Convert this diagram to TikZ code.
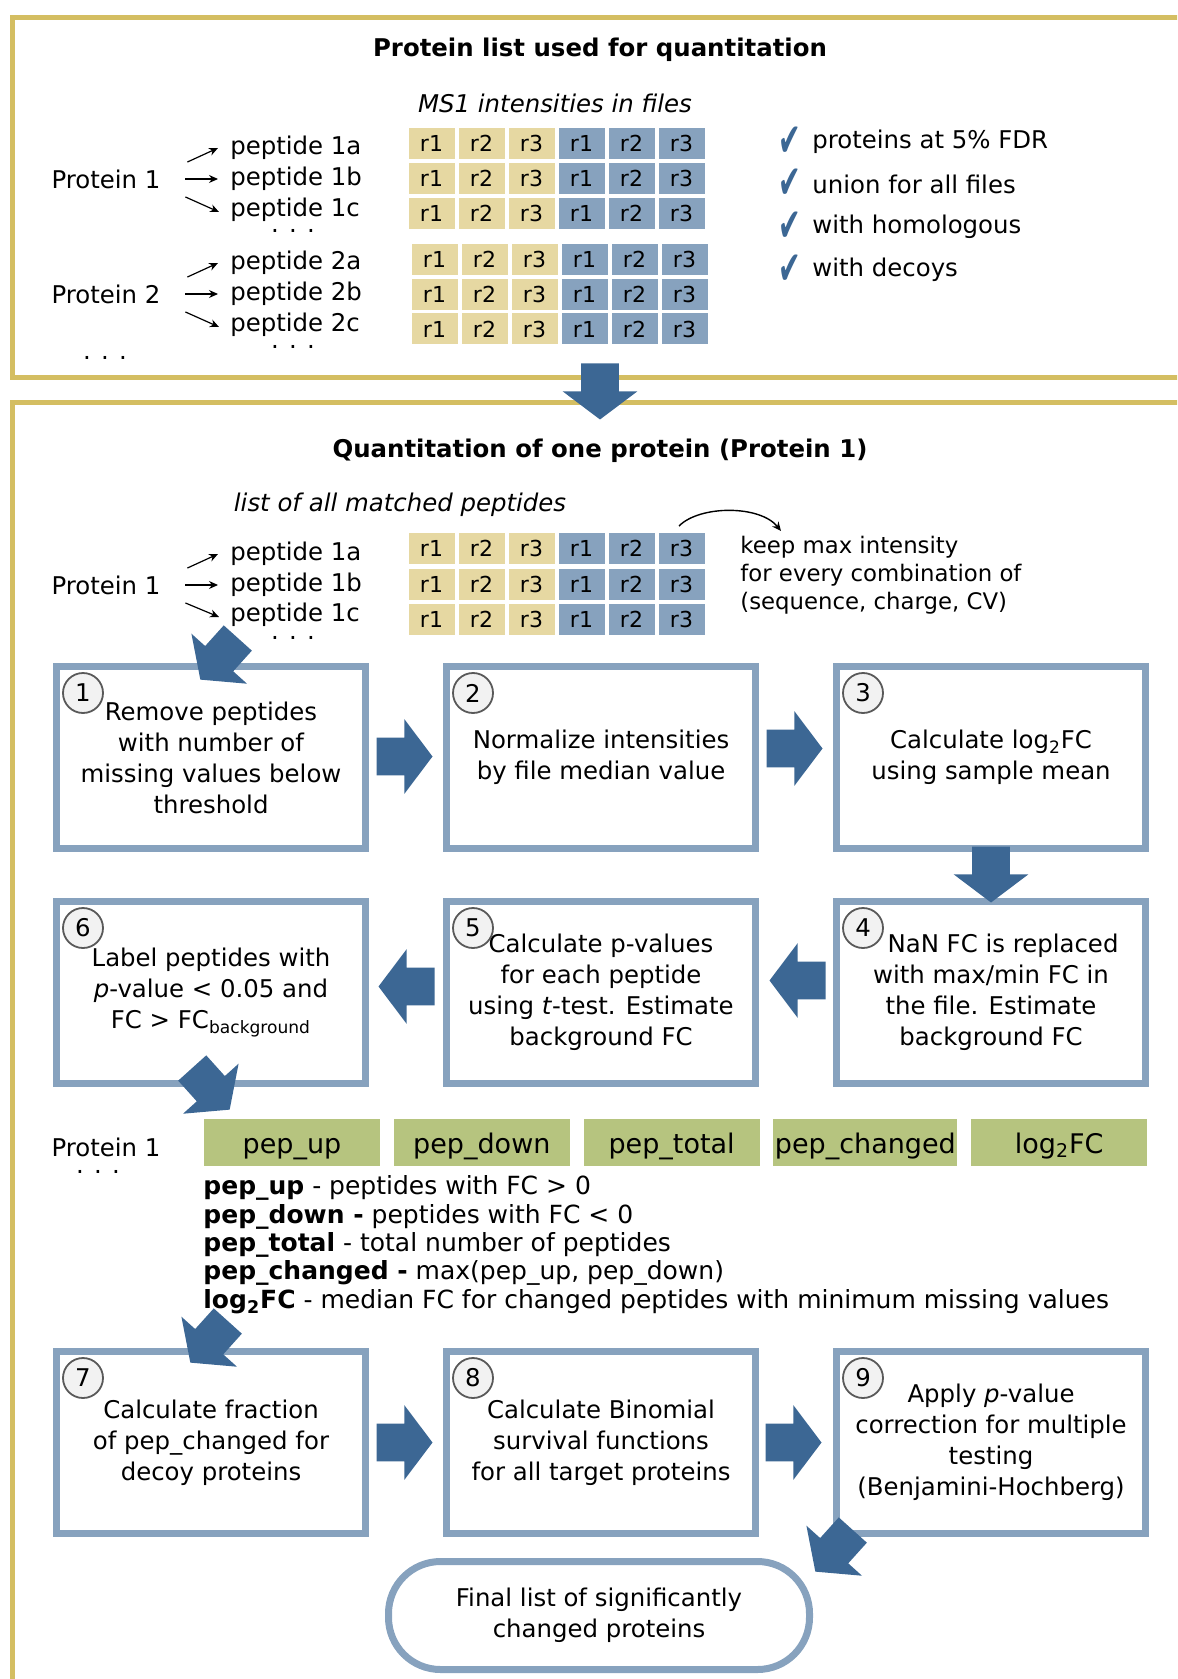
\documentclass[tikz,border=0pt]{standalone}
\usepackage{fontspec}
\setmainfont{DejaVu Sans}
\usetikzlibrary{positioning,arrows.meta,shapes.arrows,calc}
\definecolor{oro}{HTML}{D4BE62}
\definecolor{crema}{HTML}{E6D8A2}
\definecolor{gris}{HTML}{87A2BE}
\definecolor{azul}{HTML}{3C6794}
\definecolor{verde}{HTML}{B6C47F}
\definecolor{circulo}{HTML}{F2F2F2}
\newcommand{\fsz}{\fontsize{12.2}{15.5}\selectfont}
\newcommand{\tick}{\scalebox{0.75}[1.3]{✔}}
% six replicate cells in a row: name, x, y
\newcommand{\reprow}[3]{%
  \node[cy] (#1a) at (#2,#3) {r1};
  \node[cy, right=2pt of #1a] (#1b) {r2};
  \node[cy, right=2pt of #1b] (#1c) {r3};
  \node[cb, right=2pt of #1c] (#1d) {r1};
  \node[cb, right=2pt of #1d] (#1e) {r2};
  \node[cb, right=2pt of #1e] (#1f) {r3};}
% the three short arrows from a protein to its peptides
\newcommand{\fan}[4]{%
  \draw[pa] ($(#1.east)+(20,-17)$) -- ($(#2.west)+(-10,0)$);
  \draw[pa] ($(#1.east)+(18,0)$) -- ($(#3.west)+(-10,0)$);
  \draw[pa] ($(#1.east)+(18,18)$) -- ($(#4.west)+(-9,2)$);}

\begin{document}
\begin{tikzpicture}[x=0.5pt, y=-0.5pt, font=\fsz, >={Stealth[length=4.5pt, width=4pt]},
    cy/.style={fill=crema, minimum width=23pt, minimum height=15.5pt, inner sep=0pt,
               outer sep=0pt, font=\fontsize{11}{11}\selectfont},
    cb/.style={cy, fill=gris},
    pep/.style={anchor=west, inner sep=1pt},
    dts/.style={inner sep=0pt},
    pa/.style={->, line width=0.6pt},
    chk/.style={text=azul, inner sep=0pt, font=\fontsize{18}{18}\selectfont},
    stp/.style={draw=gris, line width=3.5pt, minimum width=154.5pt, minimum height=91pt,
                align=center, inner sep=2pt},
    num/.style={circle, draw=black!65, fill=circulo, line width=0.9pt, minimum size=20pt,
                inner sep=0pt},
    blk/.style={single arrow, fill=azul, inner xsep=0pt, inner ysep=9.25pt, minimum height=28pt,
                single arrow head extend=9.25pt, single arrow tip angle=106, anchor=tip},
    gb/.style={fill=verde, minimum width=88pt, minimum height=23.5pt, inner sep=0pt,
               text height=14pt, text depth=3pt, font=\fontsize{13.5}{16}\selectfont},
    lg/.style={anchor=west, inner sep=0pt, font=\fontsize{12.5}{15}\selectfont}]
    \useasboundingbox (0,0) rectangle (1177,1679);
    \clip (0,0) rectangle (1177,1679);
    % frames
    \draw[oro, line width=2.5pt] (1200,17.5) -- (12.5,17.5) -- (12.5,377.5) -- (1200,377.5);
    \draw[oro, line width=2.5pt] (1200,402.5) -- (12.5,402.5) -- (12.5,1700);
    % protein list
    \node[font=\fsz\bfseries] (t1) at (600,50) {Protein list used for quantitation};
    \node[font=\fsz\itshape] (ms1) at (555,103) {MS1 intensities in files};
    \node (prot1) at (106,179) {Protein 1};
    \node[pep] (p1a) at (228,148) {peptide 1a};
    \node[pep] (p1b) at (228,179) {peptide 1b};
    \node[pep] (p1c) at (228,210) {peptide 1c};
    \node[dts] (d1) at (293,231) {. . .};
    \fan{prot1}{p1a}{p1b}{p1c}
    \reprow{ra}{431.5}{143.5}
    \reprow{rb}{431.5}{178.5}
    \reprow{rc}{431.5}{213.5}
    \node (prot2) at (106,294) {Protein 2};
    \node[pep] (p2a) at (228,263) {peptide 2a};
    \node[pep] (p2b) at (228,294) {peptide 2b};
    \node[pep] (p2c) at (228,325) {peptide 2c};
    \node[dts] (d2) at (293,347) {. . .};
    \node[dts] (d3) at (105,358) {. . .};
    \fan{prot2}{p2a}{p2b}{p2c}
    \reprow{rd}{434.5}{259.5}
    \reprow{re}{434.5}{294.5}
    \reprow{rf}{434.5}{329}
    \node[chk] (k1) at (790,142) {\tick}; \node[pep] (l1) at (810,142) {proteins at 5\% FDR};
    \node[chk] (k2) at (790,184) {\tick}; \node[pep] (l2) at (810,184) {union for all files};
    \node[chk] (k3) at (790,227) {\tick}; \node[pep] (l3) at (810,227) {with homologous};
    \node[chk] (k4) at (790,270) {\tick}; \node[pep] (l4) at (810,270) {with decoys};
    \node[blk, rotate=-90] (a01) at (600,420) {};
    % one protein
    \node[font=\fsz\bfseries] (t2) at (600,451) {Quantitation of one protein (Protein 1)};
    \node[font=\fsz\itshape] (lst) at (400,505) {list of all matched peptides};
    \node (prot3) at (106,585) {Protein 1};
    \node[pep] (p3a) at (228,554) {peptide 1a};
    \node[pep] (p3b) at (228,585) {peptide 1b};
    \node[pep] (p3c) at (228,615) {peptide 1c};
    \node[dts] (d4) at (293,638) {. . .};
    \fan{prot3}{p3a}{p3b}{p3c}
    \reprow{rg}{431.5}{548.5}
    \reprow{rh}{431.5}{584}
    \reprow{ri}{431.5}{619}
    \node[pep, align=left, font=\fontsize{11.4}{14}\selectfont] (keep) at (738,575)
         {keep max intensity\\for every combination of\\(sequence, charge, CV)};
    \coordinate (kst) at (679,526);
    \coordinate (ken) at (781,531);
    \draw[->, line width=0.7pt] (kst) .. controls +(21,-21) and +(-21,-26) .. (ken);
    % steps
    \node[stp] (s1) at (211,757.5) {Remove peptides\\with number of\\missing values below\\threshold};
    \node[stp, right=37pt of s1] (s2) {Normalize intensities\\by file median value};
    \node[stp, right=37pt of s2] (s3) {Calculate log\textsubscript{2}FC\\using sample mean};
    \node[stp, below=23pt of s3] (s4) {\hspace*{12pt}NaN FC is replaced\\with max/min FC in\\the file. Estimate\\background FC};
    \node[stp, below=23pt of s2] (s5) {Calculate p-values\\for each peptide\\using \textit{t}-test. Estimate\\background FC};
    \node[stp, below=23pt of s1] (s6) {Label peptides with\\\textit{p}-value < 0.05 and\\FC > FC\textsubscript{background}};
    \node[num] (n1) at ([shift={(30,30)}]s1.north west) {1};
    \node[num] (n2) at ([shift={(30,30)}]s2.north west) {2};
    \node[num] (n3) at ([shift={(30,30)}]s3.north west) {3};
    \node[num] (n4) at ([shift={(30,30)}]s4.north west) {4};
    \node[num] (n5) at ([shift={(30,30)}]s5.north west) {5};
    \node[num] (n6) at ([shift={(30,30)}]s6.north west) {6};
    \node[blk] (a12) at ($(s2.west)+(-10,-1)$) {};
    \node[blk] (a23) at ($(s3.west)+(-10,-9)$) {};
    \node[blk, rotate=-90] (a34) at ($(s4.north)+(0,5)$) {};
    \node[blk, rotate=180] (a45) at ($(s5.east)+(10,-12)$) {};
    \node[blk, rotate=180] (a56) at ($(s6.east)+(9,-6)$) {};
    \node[blk, rotate=228] (ain) at (200,680) {};
    \node[blk, rotate=-48] (aout) at (230,1110) {};
    % summary
    \node (prot4) at (106,1147) {Protein 1};
    \node[dts] (d5) at (98,1172) {. . .};
    \node[gb] (g1) at (292,1142.5) {pep\_up};
    \node[gb, right=6.5pt of g1] (g2) {pep\_down};
    \node[gb, right=6.5pt of g2] (g3) {pep\_total};
    \node[gb, right=6.5pt of g3, minimum width=92pt] (g4) {pep\_changed};
    \node[gb, right=6.5pt of g4] (g5) {log\textsubscript{2}FC};
    \node[lg] (lg1) at (203,1188) {\textbf{pep\_up} - peptides with FC > 0};
    \node[lg] (lg2) at (203,1217) {\textbf{pep\_down -} peptides with FC < 0};
    \node[lg] (lg3) at (203,1245) {\textbf{pep\_total} - total number of peptides};
    \node[lg] (lg4) at (203,1273) {\textbf{pep\_changed -} max(pep\_up, pep\_down)};
    \node[lg] (lg5) at (203,1302) {\textbf{log\textsubscript{2}FC} - median FC for changed peptides with minimum missing values};
    % significance
    \node[stp] (s7) at (211,1442.5) {Calculate fraction\\of pep\_changed for\\decoy proteins};
    \node[stp, right=37pt of s7] (s8) {Calculate Binomial\\survival functions\\for all target proteins};
    \node[stp, right=37pt of s8] (s9) {Apply \textit{p}-value\\correction for multiple\\testing\\(Benjamini-Hochberg)};
    \node[num] (n7) at ([shift={(30,30)}]s7.north west) {7};
    \node[num] (n8) at ([shift={(30,30)}]s8.north west) {8};
    \node[num] (n9) at ([shift={(30,30)}]s9.north west) {9};
    \node[blk] (a78) at ($(s8.west)+(-10,0)$) {};
    \node[blk] (a89) at ($(s9.west)+(-11,0)$) {};
    \node[draw=gris, line width=3.5pt, rounded corners=26pt, minimum width=210.5pt,
          minimum height=54pt, align=center] (fin) at (599,1615.5)
         {Final list of significantly\\changed proteins};
    \node[blk, rotate=228] (a7in) at (190,1363) {};
    \node[blk, rotate=228] (afin) at (815,1572) {};
\end{tikzpicture}
\end{document}
